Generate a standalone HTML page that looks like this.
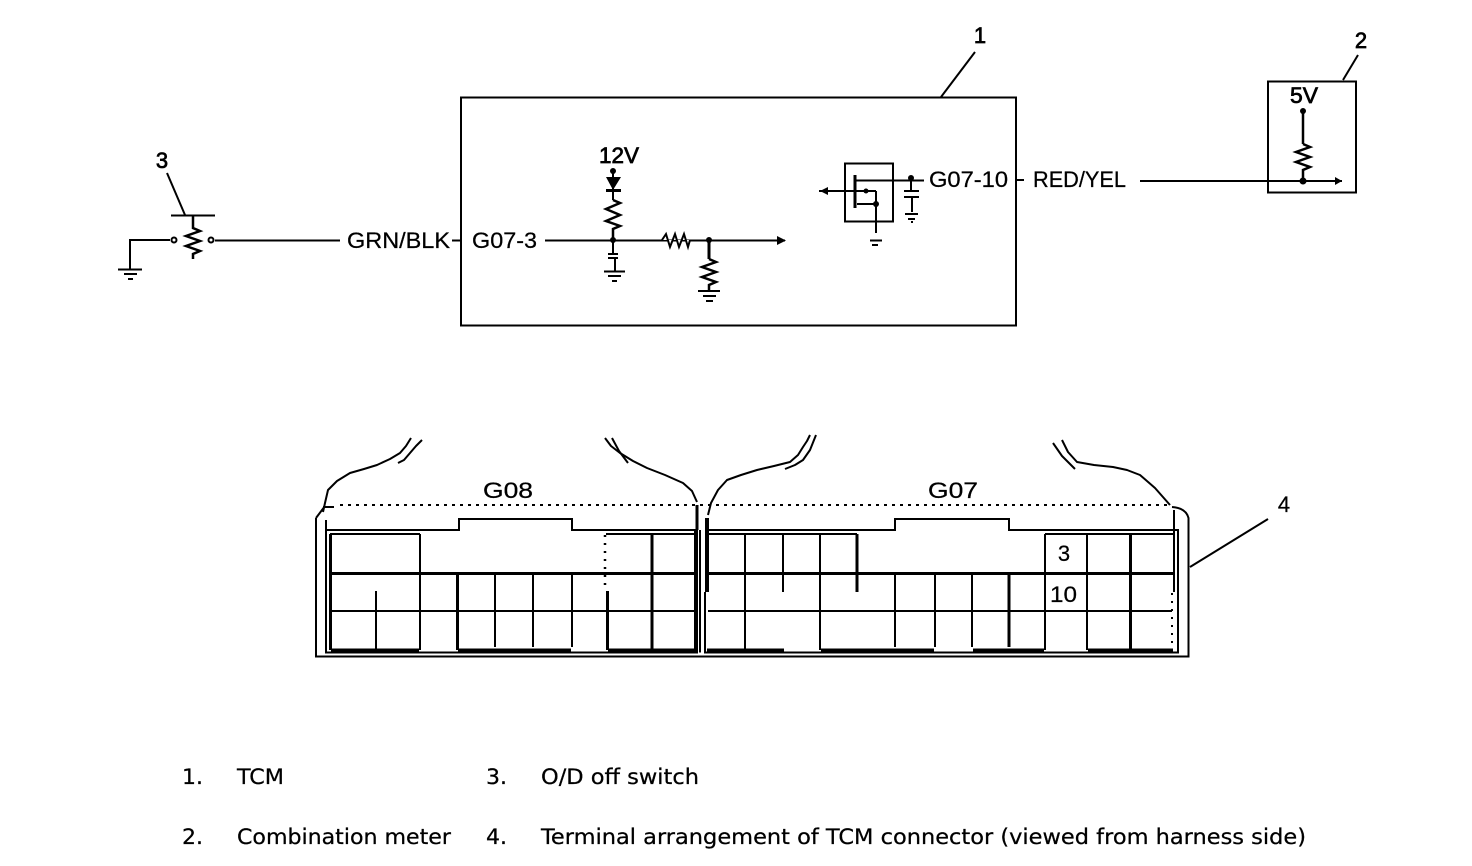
<!DOCTYPE html>
<html><head><meta charset="utf-8"><style>
html,body{margin:0;padding:0;background:#fff}
svg{display:block}
text{fill:#000;font-family:"DejaVu Sans","Liberation Sans",sans-serif}
.d{font-family:"Liberation Sans",sans-serif;font-size:22px;stroke:#000;stroke-width:.25}
.n{stroke-width:.7}
.l{font-size:21px;stroke:#000;stroke-width:.25}
.w path,.w line,.w rect,.w polyline{fill:none;stroke:#000}
.w polyline{stroke-linejoin:round}
</style></head><body>
<svg width="1472" height="866" viewBox="0 0 1472 866" xmlns="http://www.w3.org/2000/svg">
<g class="w" stroke-width="2">
<rect x="461" y="97.500" width="555" height="228"/>
<line x1="941" y1="97" x2="975" y2="52"/>
<rect x="1268" y="81.500" width="88" height="111"/>
<line x1="1343" y1="80" x2="1358" y2="55"/>
<line x1="1303" y1="111" x2="1303" y2="144" stroke-width="2.500"/>
<path d="M1303 144l7 3-14 5 14 5-14 5 14 5-7 3v11" stroke-width="2.500"/>
<line x1="1140" y1="181" x2="1342" y2="181"/>
<line x1="1017" y1="180" x2="1024" y2="180"/>
<!-- left switch -->
<path d="M130 270V240H170"/>
<line x1="118" y1="269.500" x2="142" y2="269.500"/><line x1="124" y1="274" x2="137" y2="274"/><line x1="128" y1="279" x2="133" y2="279"/>
<line x1="171" y1="215.500" x2="215" y2="215.500"/>
<line x1="167" y1="173" x2="185" y2="215"/>
<path d="M193 215v13l7 3-14 5 14 5-14 5 14 5-7 3v5" stroke-width="2.500"/>
<line x1="215" y1="240.500" x2="340" y2="240.500"/>
<line x1="452" y1="240.500" x2="461" y2="240.500"/>
<line x1="545" y1="240.500" x2="785" y2="240.500"/>
<circle cx="174" cy="240" r="2.500" style="fill:#fff;stroke:#000"/><circle cx="211" cy="240" r="2.500" style="fill:#fff;stroke:#000"/>
<!-- 12V branch -->
<line x1="613" y1="171" x2="613" y2="200"/>
<path d="M613 200l7 3-14 6 14 6-14 6 14 5-7 3v11" stroke-width="2.500"/>
<line x1="613" y1="240" x2="613" y2="253"/>
<line x1="608" y1="254" x2="618" y2="254"/><line x1="608" y1="258" x2="618" y2="258"/>
<line x1="615" y1="258" x2="615" y2="271"/>
<line x1="604" y1="271.500" x2="625" y2="271.500"/><line x1="608" y1="276" x2="621" y2="276"/><line x1="612" y1="281" x2="617" y2="281"/>
<path d="M662 240l4-6 4 13 5-13 4 13 5-13 4 13 2-7" style="fill:#fff;stroke:#000"/>
<line x1="709" y1="240" x2="709" y2="259" stroke-width="3"/>
<path d="M709 259l7 3-14 5 14 5-14 5 14 5-7 3v6" stroke-width="2.500"/>
<line x1="698" y1="291" x2="720" y2="291"/><line x1="703" y1="296" x2="716" y2="296"/><line x1="706" y1="301" x2="713" y2="301"/>
<!-- MOSFET -->
<rect x="845" y="163.500" width="48" height="58"/>
<line x1="855" y1="175" x2="855" y2="208" stroke-width="3"/>
<line x1="856" y1="180.500" x2="924" y2="180.500"/>
<line x1="819" y1="191" x2="876" y2="191"/>
<line x1="857" y1="204" x2="876" y2="204"/>
<line x1="876" y1="191" x2="876" y2="233"/>
<line x1="870" y1="240.500" x2="882" y2="240.500"/><line x1="872" y1="245" x2="878" y2="245"/>
<line x1="911" y1="178" x2="911" y2="190"/>
<line x1="904" y1="191" x2="919" y2="191"/><line x1="904" y1="197" x2="919" y2="197"/>
<line x1="912" y1="197" x2="912" y2="212"/>
<line x1="905" y1="214" x2="918" y2="214"/><line x1="908" y1="219" x2="915" y2="219"/><line x1="911" y1="222" x2="913" y2="222"/>
<!-- connector outlines -->
<path d="M316 518L325 506"/>
<path d="M316 518V656.500H1188.500V518Q1186 508 1172 507"/>
<path d="M326 520V652.500H697V530H572V519H459V530H326" />
<path d="M700 530V652.500M695 530V652"/>
<path d="M705 592V652.500H1178V530H1009V519H895V530H705"/>
<line x1="1174" y1="510" x2="1174" y2="592"/>
<!-- curves -->
<polyline points="323,512 325,503 328,490 337,481 350,473 364,469 377,465 390,459 400,453 406,446 411,438"/>
<polyline points="398,463 404,460 410,453 416,446 422,440"/>
<polyline points="605,438 611,446 620,453 633,461 647,468 665,475 683,483 692,491 697,502"/>
<polyline points="612,438 619,451 628,463"/>
<polyline points="708,515 711,503 718,490 727,480 741,475 757,470 774,466 790,462 798,455 803,447 807,441 810,435"/>
<polyline points="785,469 795,465 803,460 810,450 816,435"/>
<polyline points="1062,440 1068,452 1077,462 1094,465 1113,467 1127,470 1140,475 1155,488 1170,505"/>
<polyline points="1053,443 1062,456 1075,469"/>
<line x1="340" y1="505" x2="1170" y2="505" stroke-dasharray="3 5"/>
<path d="M323 507H334"/>
<line x1="1190" y1="567" x2="1268" y2="519"/>
<!-- grid -->
<path d="M330 534H420M606 534H695M707 534H857M1045 534H1174"/>
<line x1="330" y1="573.500" x2="695" y2="573.500" stroke-width="3"/>
<line x1="707" y1="573.500" x2="1174" y2="573.500" stroke-width="3"/>
<line x1="331" y1="611" x2="695" y2="611"/><line x1="708" y1="611" x2="1172" y2="611"/>
<path d="M331 650.500H419M458 650.500H571M608 650.500H695M707 650.500H784M821 650.500H934M973 650.500H1044M1088 650.500H1173" stroke-width="4"/>
<line x1="330.500" y1="534" x2="330.500" y2="650" stroke-width="3"/>
<line x1="376" y1="591" x2="376" y2="650"/>
<line x1="420" y1="534" x2="420" y2="650"/>
<line x1="457.500" y1="573" x2="457.500" y2="650" stroke-width="3"/>
<line x1="495" y1="573" x2="495" y2="647"/><line x1="533" y1="573" x2="533" y2="647"/><line x1="572" y1="573" x2="572" y2="647"/>
<line x1="607.500" y1="591" x2="607.500" y2="650" stroke-width="3"/>
<line x1="605" y1="535" x2="605" y2="590" stroke-width="2.500" stroke-dasharray="2 6"/>
<line x1="652" y1="534" x2="652" y2="650" stroke-width="3"/>
<line x1="707" y1="518" x2="707" y2="592" stroke-width="4"/>
<line x1="697" y1="505" x2="697" y2="530" stroke-width="3"/>
<line x1="745" y1="534" x2="745" y2="650"/>
<line x1="783" y1="534" x2="783" y2="592"/>
<line x1="820" y1="534" x2="820" y2="650"/>
<line x1="857" y1="534" x2="857" y2="592" stroke-width="3"/>
<line x1="895" y1="573" x2="895" y2="647"/><line x1="935" y1="573" x2="935" y2="647"/><line x1="972" y1="573" x2="972" y2="647"/>
<line x1="1009" y1="573" x2="1009" y2="647" stroke-width="3"/>
<line x1="1045" y1="534" x2="1045" y2="650"/><line x1="1087" y1="534" x2="1087" y2="650"/>
<line x1="1130.500" y1="534" x2="1130.500" y2="650" stroke-width="3"/>
<line x1="1172" y1="593" x2="1172" y2="650" stroke-width="2" stroke-dasharray="2 6"/>
</g>
<!-- solid dots, arrows -->
<g fill="#000">
<circle cx="1303" cy="111" r="3"/><circle cx="1303" cy="181" r="3.500"/>
<path d="M1335 177L1342 181L1335 185Z"/>
<path d="M777 236L786 240.500L777 245Z"/>
<path d="M820 191L828 187V195Z"/>
<circle cx="613" cy="171" r="3"/><circle cx="613" cy="240" r="3"/><circle cx="709" cy="240" r="3"/>
<path d="M606 177H621L613 190Z"/><rect x="606" y="189" width="15" height="3"/>
<circle cx="866" cy="191" r="2.500"/><circle cx="876" cy="204" r="3"/><circle cx="911" cy="178" r="3"/>
</g>
<!-- diagram labels -->
<text class="d n" x="980" y="43" text-anchor="middle">1</text>
<text class="d n" x="1361" y="48" text-anchor="middle">2</text>
<text class="d n" x="162" y="168" text-anchor="middle">3</text>
<text class="d" x="1284" y="512" text-anchor="middle">4</text>
<text class="d n" x="1290" y="103" textLength="28" lengthAdjust="spacingAndGlyphs">5V</text>
<text class="d n" x="599" y="163" textLength="40" lengthAdjust="spacingAndGlyphs">12V</text>
<text class="d" x="347" y="248" textLength="103" lengthAdjust="spacingAndGlyphs">GRN/BLK</text>
<text class="d" x="472" y="248" textLength="65" lengthAdjust="spacingAndGlyphs">G07-3</text>
<text class="d" x="929" y="187" textLength="79" lengthAdjust="spacingAndGlyphs">G07-10</text>
<text class="d" x="1033" y="187" textLength="93" lengthAdjust="spacingAndGlyphs">RED/YEL</text>
<text class="d" x="483" y="498" textLength="50" lengthAdjust="spacingAndGlyphs">G08</text>
<text class="d" x="928" y="498" textLength="50" lengthAdjust="spacingAndGlyphs">G07</text>
<text class="d" x="1064" y="561" text-anchor="middle">3</text>
<text class="d" x="1050" y="602" textLength="27" lengthAdjust="spacingAndGlyphs">10</text>
<!-- legend -->
<text class="l" x="182" y="784" textLength="21" lengthAdjust="spacingAndGlyphs">1.</text>
<text class="l" x="237" y="784" textLength="47" lengthAdjust="spacingAndGlyphs">TCM</text>
<text class="l" x="486" y="784" textLength="21" lengthAdjust="spacingAndGlyphs">3.</text>
<text class="l" x="541" y="784" textLength="158" lengthAdjust="spacingAndGlyphs">O/D off switch</text>
<text class="l" x="182" y="844" textLength="21" lengthAdjust="spacingAndGlyphs">2.</text>
<text class="l" x="237" y="844" textLength="214" lengthAdjust="spacingAndGlyphs">Combination meter</text>
<text class="l" x="486" y="844" textLength="21" lengthAdjust="spacingAndGlyphs">4.</text>
<text class="l" x="541" y="844" textLength="765" lengthAdjust="spacingAndGlyphs">Terminal arrangement of TCM connector (viewed from harness side)</text>
</svg>
</body></html>
